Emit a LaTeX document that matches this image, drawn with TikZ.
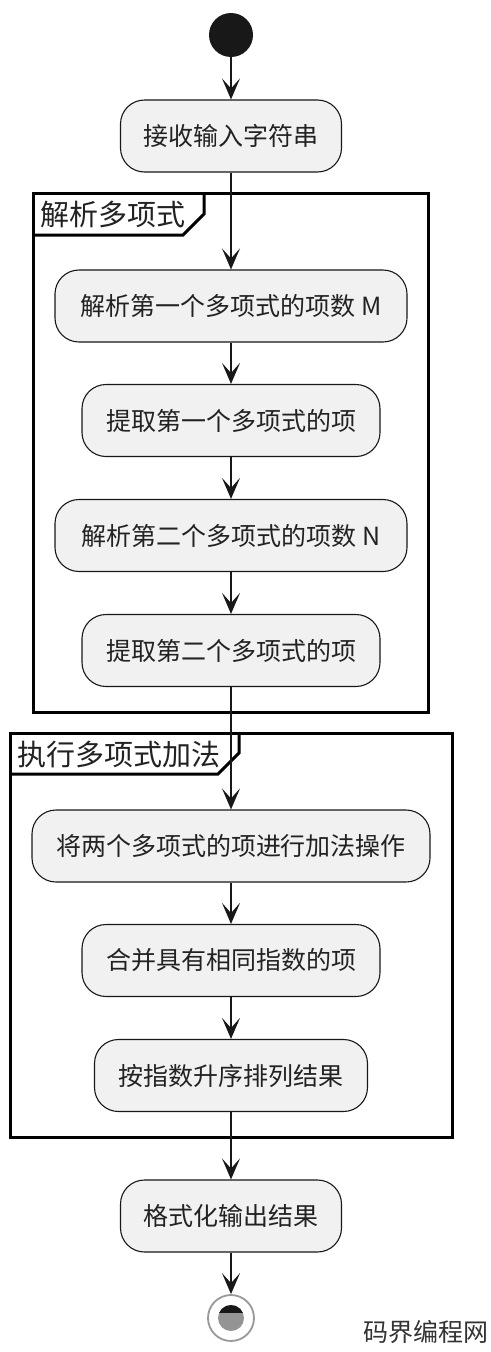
\documentclass[tikz,border=0pt]{standalone}
\usepackage{fontspec}
\setmainfont{Noto Sans CJK SC}
\usetikzlibrary{arrows.meta}
\definecolor{boxfill}{HTML}{F1F1F1}
\definecolor{ink}{HTML}{181818}
\definecolor{txt}{HTML}{222222}
\tikzset{
  actbox/.style={draw=ink, line width=1.1pt, fill=boxfill, rounded corners=24pt,
    minimum height=72pt, inner sep=0pt, text=txt, font=\fontsize{25}{30}\selectfont},
  flow/.style={draw=ink, line width=2pt, -{Stealth[length=21pt,width=18pt,inset=10pt]}},
  frameline/.style={draw=black, line width=3pt},
  framelabel/.style={anchor=west, inner sep=0pt, text=txt, font=\fontsize{29}{34}\selectfont},
}
\begin{document}
\begin{tikzpicture}[x=1pt,y=-1pt]
\useasboundingbox (0,0) rectangle (490,1352);
\fill[white] (0,0) rectangle (490,1352);

% frames
\draw[frameline] (33,193) rectangle (428,712);
\draw[frameline] (33,235) -- (183,235) -- (204,214) -- (204,193);
\node[framelabel] (f1) at (40,214) {解析多项式};

\draw[frameline] (10,733) rectangle (452,1137);
\draw[frameline] (10,774) -- (218,774) -- (239,753) -- (239,733);
\node[framelabel] (f2) at (17,754) {执行多项式加法};

% start
\node[circle, fill=ink, minimum size=44pt, inner sep=0pt] (start) at (231,35) {};

% boxes
\node[actbox, minimum width=221pt] (b1) at (231,136) {接收输入字符串};
\node[actbox, minimum width=352pt] (b2) at (231,306) {解析第一个多项式的项数 M};
\node[actbox, minimum width=298pt] (b3) at (231,420.5) {提取第一个多项式的项};
\node[actbox, minimum width=352pt] (b4) at (231,535.5) {解析第二个多项式的项数 N};
\node[actbox, minimum width=298pt] (b5) at (231,650.5) {提取第二个多项式的项};
\node[actbox, minimum width=398pt] (b6) at (231,846) {将两个多项式的项进行加法操作};
\node[actbox, minimum width=298pt] (b7) at (231,960.5) {合并具有相同指数的项};
\node[actbox, minimum width=273pt] (b8) at (231,1075.5) {按指数升序排列结果};
\node[actbox, minimum width=221pt] (b9) at (231,1216) {格式化输出结果};

% end
\node[circle, draw=black!40, line width=1.8pt, fill=white, minimum size=46pt, inner sep=0pt] (end) at (231,1318) {};
\begin{scope}
  \clip (231,1318) circle (13pt);
  \fill[black!42] (218,1305) rectangle (244,1331);
  \fill[ink] (218,1304) rectangle (244,1313);
\end{scope}

% connectors
\draw[flow] (start) -- (b1);
\draw[flow] (b1) -- (b2);
\draw[flow] (b2) -- (b3);
\draw[flow] (b3) -- (b4);
\draw[flow] (b4) -- (b5);
\draw[flow] (b5) -- (b6);
\draw[flow] (b6) -- (b7);
\draw[flow] (b7) -- (b8);
\draw[flow] (b8) -- (b9);
\draw[flow] (b9) -- (end);

% watermark
\node[inner sep=0pt, text=black!80, font=\fontsize{25}{30}\selectfont] (wm) at (426,1332) {码界编程网};
\end{tikzpicture}
\end{document}
